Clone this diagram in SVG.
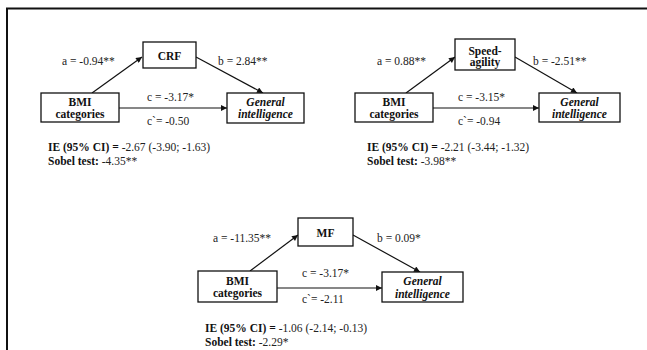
<svg xmlns="http://www.w3.org/2000/svg" width="647" height="350" viewBox="0 0 647 350">
<style>
.box{fill:#fff;stroke:#111;stroke-width:1.3}
.bt{font-family:"Liberation Serif","Times New Roman",serif;font-size:11.5px;font-weight:bold;text-anchor:middle;fill:#111}
.bi{font-style:italic}
.lb{font-family:"Liberation Serif","Times New Roman",serif;font-size:11.5px;fill:#222}
.b{font-weight:bold;fill:#111}
.ln{stroke:#111;stroke-width:1.2;fill:none;marker-end:url(#ah)}
</style>
<defs>
<marker id="ah" viewBox="0 0 10 10" refX="10" refY="5" markerWidth="7" markerHeight="6" markerUnits="userSpaceOnUse" orient="auto">
<path d="M0,0 L10,5 L0,10 z" fill="#111"/>
</marker>
</defs>
<rect width="647" height="350" fill="#fff"/>
<path d="M7,350 V8.5 H647" fill="none" stroke="#111" stroke-width="2"/>

<g id="connectors">
<line class="ln" x1="92" y1="93" x2="142" y2="57"/>
<line class="ln" x1="196" y1="57" x2="263" y2="93"/>
<line class="ln" x1="119" y1="108" x2="227" y2="108"/>
<line class="ln" x1="406" y1="93" x2="455" y2="57"/>
<line class="ln" x1="515" y1="57" x2="577" y2="93"/>
<line class="ln" x1="433" y1="108" x2="539" y2="108"/>
<line class="ln" x1="250" y1="271" x2="298" y2="235"/>
<line class="ln" x1="353" y1="235" x2="420" y2="272"/>
<line class="ln" x1="277" y1="288" x2="382" y2="288"/>
</g>

<g id="crf"><rect class="box" x="143" y="42" width="53" height="26"/><text class="bt" x="169.5" y="60">CRF</text></g>
<g id="bmi1"><rect class="box" x="41" y="93" width="78" height="29"/><text class="bt" x="80" y="106">BMI</text><text class="bt" x="80" y="117.5">categories</text></g>
<g id="gi1"><rect class="box" x="227" y="93" width="77" height="30"/><text class="bt bi" x="265.5" y="106">General</text><text class="bt bi" x="265.5" y="118">intelligence</text></g>

<g id="speed"><rect class="box" x="455" y="39" width="60" height="31"/><text class="bt" x="485" y="55">Speed-</text><text class="bt" x="485" y="65.5">agility</text></g>
<g id="bmi2"><rect class="box" x="355" y="93" width="78" height="29"/><text class="bt" x="394" y="106">BMI</text><text class="bt" x="394" y="117.5">categories</text></g>
<g id="gi2"><rect class="box" x="539" y="93" width="81" height="29"/><text class="bt bi" x="579.5" y="106">General</text><text class="bt bi" x="579.5" y="118">intelligence</text></g>

<g id="mf"><rect class="box" x="298" y="218" width="55" height="28"/><text class="bt" x="325.5" y="237">MF</text></g>
<g id="bmi3"><rect class="box" x="198" y="271" width="79" height="31"/><text class="bt" x="237.5" y="285">BMI</text><text class="bt" x="237.5" y="297">categories</text></g>
<g id="gi3"><rect class="box" x="382" y="272" width="81" height="30"/><text class="bt bi" x="422.5" y="285">General</text><text class="bt bi" x="422.5" y="297.5">intelligence</text></g>

<g id="labels">
<text class="lb" x="62" y="65">a = -0.94**</text>
<text class="lb" x="218" y="65">b = 2.84**</text>
<text class="lb" x="147" y="101">c = -3.17*</text>
<text class="lb" x="147" y="125">c`= -0.50</text>
<text class="lb" x="48" y="151"><tspan class="b">IE (95% CI) =</tspan> -2.67 (-3.90; -1.63)</text>
<text class="lb" x="48" y="165"><tspan class="b">Sobel test:</tspan> -4.35**</text>

<text class="lb" x="377" y="65">a = 0.88**</text>
<text class="lb" x="533" y="65">b = -2.51**</text>
<text class="lb" x="458" y="101">c = -3.15*</text>
<text class="lb" x="458" y="125">c`= -0.94</text>
<text class="lb" x="367" y="151"><tspan class="b">IE (95% CI) =</tspan> -2.21 (-3.44; -1.32)</text>
<text class="lb" x="367" y="165"><tspan class="b">Sobel test:</tspan> -3.98**</text>

<text class="lb" x="213" y="242">a = -11.35**</text>
<text class="lb" x="377" y="242">b = 0.09*</text>
<text class="lb" x="302" y="277">c = -3.17*</text>
<text class="lb" x="302" y="303">c`= -2.11</text>
<text class="lb" x="205" y="332"><tspan class="b">IE (95% CI) =</tspan> -1.06 (-2.14; -0.13)</text>
<text class="lb" x="205" y="346"><tspan class="b">Sobel test:</tspan> -2.29*</text>
</g>
</svg>
